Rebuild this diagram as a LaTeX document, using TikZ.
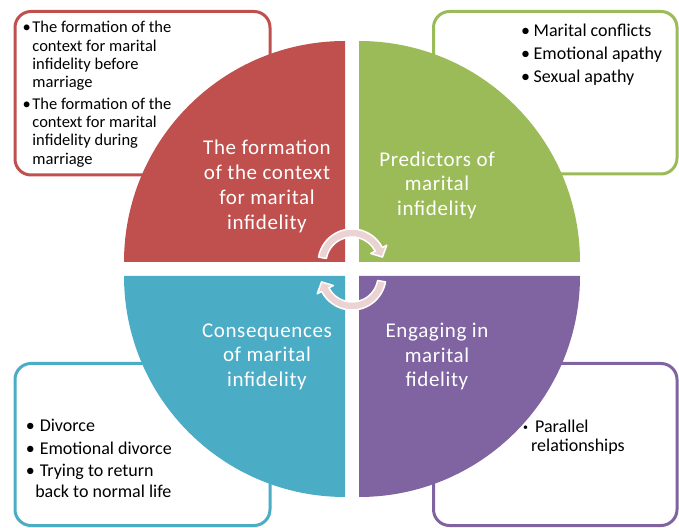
\documentclass[tikz,border=0pt]{standalone}
\usepackage{fontspec}
\setmainfont{Carlito}
\newfontfamily\widecarlito[LetterSpace=3]{Carlito}
\usepackage{tikz}
\usetikzlibrary{calc}
\definecolor{formred}{HTML}{C0504D}
\definecolor{predgreen}{HTML}{9BBB59}
\definecolor{consaqua}{HTML}{4BACC6}
\definecolor{engpurple}{HTML}{8064A2}
\definecolor{cyclepink}{HTML}{EBD3D3}
\tikzset{
  listbox/.style={line width=3pt,rounded corners=16pt,fill=white},
  qlabel/.style={text=white,align=center,inner sep=0pt,font=\widecarlito\fontsize{21}{24.5}\selectfont},
  blist/.style={anchor=base west,inner sep=0pt,font=\fontsize{18}{22.7}\selectfont},
  turnarrow/.pic={
    \draw[fill=cyclepink,draw=white,line width=1.5pt,line join=round]
      (170:34) arc[start angle=170,end angle=27,radius=34] -- (27:39) -- (11:31)
      -- (27:21) -- (27:26) arc[start angle=27,end angle=170,radius=26] -- cycle;
  }
}

\begin{document}
\begin{tikzpicture}[x=1pt,y=1pt]
  \useasboundingbox (0,0) rectangle (679,527);
  \draw[listbox,draw=formred] (15,352) rectangle (270,515.5);
  \draw[listbox,draw=predgreen] (433.5,353) rectangle (677,515.5);
  \draw[listbox,draw=consaqua] (15,1.5) rectangle (270,163.5);
  \draw[listbox,draw=engpurple] (433.5,1.5) rectangle (677,163.5);

  \fill[formred] (345,265) -- (124,265) arc[start angle=180,end angle=90,radius=221] -- cycle;
  \fill[predgreen] (359,265) -- (359,486) arc[start angle=90,end angle=0,radius=221] -- cycle;
  \fill[consaqua] (345,251) -- (345,30) arc[start angle=270,end angle=180,radius=221] -- cycle;
  \fill[engpurple] (359,251) -- (580,251) arc[start angle=0,end angle=-90,radius=221] -- cycle;

  \node[qlabel,font=\widecarlito\fontsize{21}{25}\selectfont] (formation) at (267,341) {The formation\\of the context\\for marital\\infidelity};
  \node[qlabel] (predictors) at (437,342) {Predictors of\\marital\\infidelity};
  \node[qlabel] (consequences) at (267,170.5) {Consequences\\of marital\\infidelity};
  \node[qlabel] (engaging) at (437,170.5) {Engaging in\\marital\\fidelity};

  \pic at (352,264) {turnarrow};
  \pic[rotate=180] at (352,251) {turnarrow};

  \node[blist,font=\fontsize{16.5}{18.3}\selectfont] (formationlist) at (22.5,494) {%
    \begin{tabular}[t]{@{}l@{\hspace{1.5pt}}l@{}}
      \textbullet & The formation of the\\
                  & context for marital\\
                  & infidelity before\\
                  & marriage\\[3pt]
      \textbullet & The formation of the\\
                  & context for marital\\
                  & infidelity during\\
                  & marriage
    \end{tabular}};
  \node[blist] (predictorslist) at (521,490.3) {%
    \begin{tabular}[t]{@{}l@{\hspace{3.5pt}}l@{}}
      \textbullet & Marital conflicts\\
      \textbullet & Emotional apathy\\
      \textbullet & Sexual apathy
    \end{tabular}};
  \node[blist,font=\fontsize{18}{22.5}\selectfont] (consequenceslist) at (25.6,95.3) {%
    \begin{tabular}[t]{@{}l@{\hspace{5pt}}l@{}}
      \textbullet & Divorce\\
      \textbullet & Emotional divorce\\
      \textbullet & Trying to return\\[-1.5pt]
                  & \hspace*{-4.5pt}back to normal life
    \end{tabular}};
  \node[blist,font=\fontsize{18}{20}\selectfont] (engaginglist) at (523,95) {%
    \begin{tabular}[t]{@{}l@{\hspace{7pt}}l@{}}
      \raisebox{1.5pt}{\fontsize{10}{10}\selectfont\textbullet} & Parallel\\
                  & \hspace*{-4pt}relationships
    \end{tabular}};
\end{tikzpicture}
\end{document}
